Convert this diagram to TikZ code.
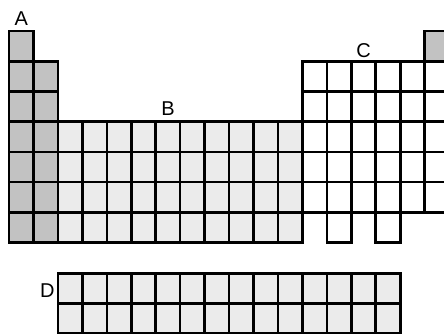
\documentclass[tikz,border=0pt]{standalone}
\usepackage{fontspec}
\setmainfont{Liberation Sans}
\begin{document}
\begin{tikzpicture}[x=24.45pt,y=-30.2pt,
  cellA/.style={draw=black,line width=2.6pt,fill=black!24},
  cellB/.style={draw=black,line width=2.6pt,fill=black!8},
  cellC/.style={draw=black,line width=2.6pt,fill=white},
  blocklabel/.style={font=\fontsize{20}{20}\selectfont}]
% Blocs du tableau périodique
\useasboundingbox (-0.368,-1.027) rectangle (17.791,10);
\clip (-0.368,-1.027) rectangle (17.791,10);
\foreach \r in {1,...,7} \draw[cellA] (0,\r-1) rectangle ++(1,1);
\foreach \r in {2,...,7} \draw[cellA] (1,\r-1) rectangle ++(1,1);
\foreach \c in {3,...,12} \foreach \r in {4,...,7} \draw[cellB] (\c-1,\r-1) rectangle ++(1,1);
\foreach \c in {13,...,18} \foreach \r in {2,...,6} \draw[cellC] (\c-1,\r-1) rectangle ++(1,1);
\draw[cellA] (17,0) rectangle ++(1,1);
\foreach \c in {14,16} \draw[cellC] (\c-1,6) rectangle ++(1,1);
\foreach \c in {3,...,16} \foreach \r in {0,1} \draw[cellB] (\c-1,8.02+\r) rectangle ++(1,1);
\node[blocklabel] (labA) at (0.5,-0.4) {A};
\node[blocklabel] (labB) at (6.5,2.57) {B};
\node[blocklabel] (labC) at (14.5,0.64) {C};
\node[blocklabel] (labD) at (1.57,8.6) {D};
\end{tikzpicture}
\end{document}
